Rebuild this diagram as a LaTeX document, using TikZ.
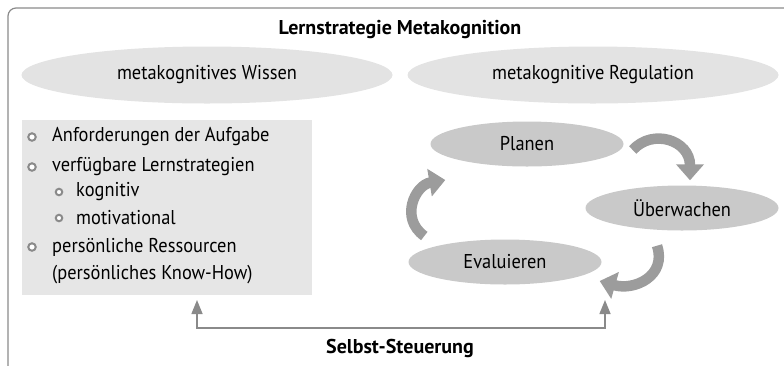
\documentclass[tikz,border=0pt]{standalone}
\usepackage{fontspec}
\setmainfont{PT Sans}
\newfontfamily\condfont[FakeStretch=0.92]{PT Sans}
\usetikzlibrary{shapes.geometric,arrows.meta}
\definecolor{ellgrey}{HTML}{E3E3E3}
\definecolor{stepgrey}{HTML}{C9C9C9}
\definecolor{boxgrey}{HTML}{E6E6E6}
\definecolor{linegrey}{HTML}{8A8A8A}
\definecolor{arrgrey}{HTML}{9C9C9C}
\def\txt{\condfont\fontsize{20}{24}\selectfont}
\def\bold{\fontsize{20}{24}\selectfont\bfseries}
\tikzset{
  topell/.style={ellipse, fill=ellgrey, minimum width=371pt, minimum height=57pt, inner sep=0pt, font=\txt},
  stepell/.style={ellipse, fill=stepgrey, minimum width=193pt, minimum height=45pt, inner sep=0pt, font=\txt},
  listitem/.style={anchor=west, inner sep=0pt, font=\txt},
  ring/.style={circle, draw=linegrey, line width=2pt, fill=white, inner sep=0pt, minimum size=7.5pt},
  subring/.style={ring, minimum size=6.5pt},
  cyclearrow/.style={draw=arrgrey, line width=10.5pt, -{Triangle[width=27pt,length=16pt]}},
  steer/.style={draw=linegrey, line width=1.5pt, {Triangle[width=11pt,length=14pt]}-{Triangle[width=11pt,length=14pt]}},
}

\begin{document}
\begin{tikzpicture}[x=1pt, y=-1pt]
		%%%%% START %%%%%
		\useasboundingbox (0,0) rectangle (784,365);
		\begin{scope}
		\clip (0,0) rectangle (784,365);
		\draw[linegrey, line width=1.2pt, rounded corners=8pt] (8,8) rectangle (800,375);
		\end{scope}
		
		\node[font=\bold] (title) at (400,30) {Lernstrategie Metakognition};
		\node[topell] (wissen) at (207,75) {metakognitives Wissen};
		\node[topell] (regulation) at (593,75) {metakognitive Regulation};
		
		% left: list of knowledge
		\node[fill=boxgrey, minimum width=290pt, minimum height=175pt, inner sep=0pt, anchor=north west] (box) at (22,120) {};
		\node[ring] (b1) at (32,137) {};
		\node[listitem] (i1) at (52,137) {Anforderungen der Aufgabe};
		\node[ring] (b2) at (32,167) {};
		\node[listitem] (i2) at (52,167) {verfügbare Lernstrategien};
		\node[subring] (b3) at (59,192) {};
		\node[listitem] (i3) at (76,192) {kognitiv};
		\node[subring] (b4) at (59,218) {};
		\node[listitem] (i4) at (76,218) {motivational};
		\node[ring] (b5) at (32,247) {};
		\node[listitem] (i5) at (52,247) {persönliche Ressourcen};
		\node[listitem] (i6) at (52,275) {(persönliches Know-How)};
		
		% right: regulation cycle
		\node[stepell] (planen) at (527,144) {Planen};
		\node[stepell] (ueberwachen) at (682,208) {Überwachen};
		\node[stepell] (evaluieren) at (505,262) {Evaluieren};
		
		\draw[cyclearrow] ([shift={(9,6)}]planen.east) .. controls +(20,-22) and +(0,-40) .. ([shift={(8,-5)}]ueberwachen.north);
		\draw[cyclearrow] ([shift={(-25,15)}]ueberwachen.south) .. controls +(10,30) and +(35,10) .. ([shift={(-2,19)}]evaluieren.east);
		\draw[cyclearrow] ([shift={(16,-26)}]evaluieren.west) .. controls +(-25,-18) and +(-30,5) .. ([shift={(15,36)}]planen.west);
		
		% bottom: self-regulation
		\coordinate (ls) at (197,300);
		\coordinate (rs) at (605,300);
		\draw[steer] (ls) -- ++(0,28) -| (rs);
		\node[font=\bold] (steuerung) at (400,348) {Selbst-Steuerung};
		
		%%%%% END %%%%%
\end{tikzpicture}
\end{document}
